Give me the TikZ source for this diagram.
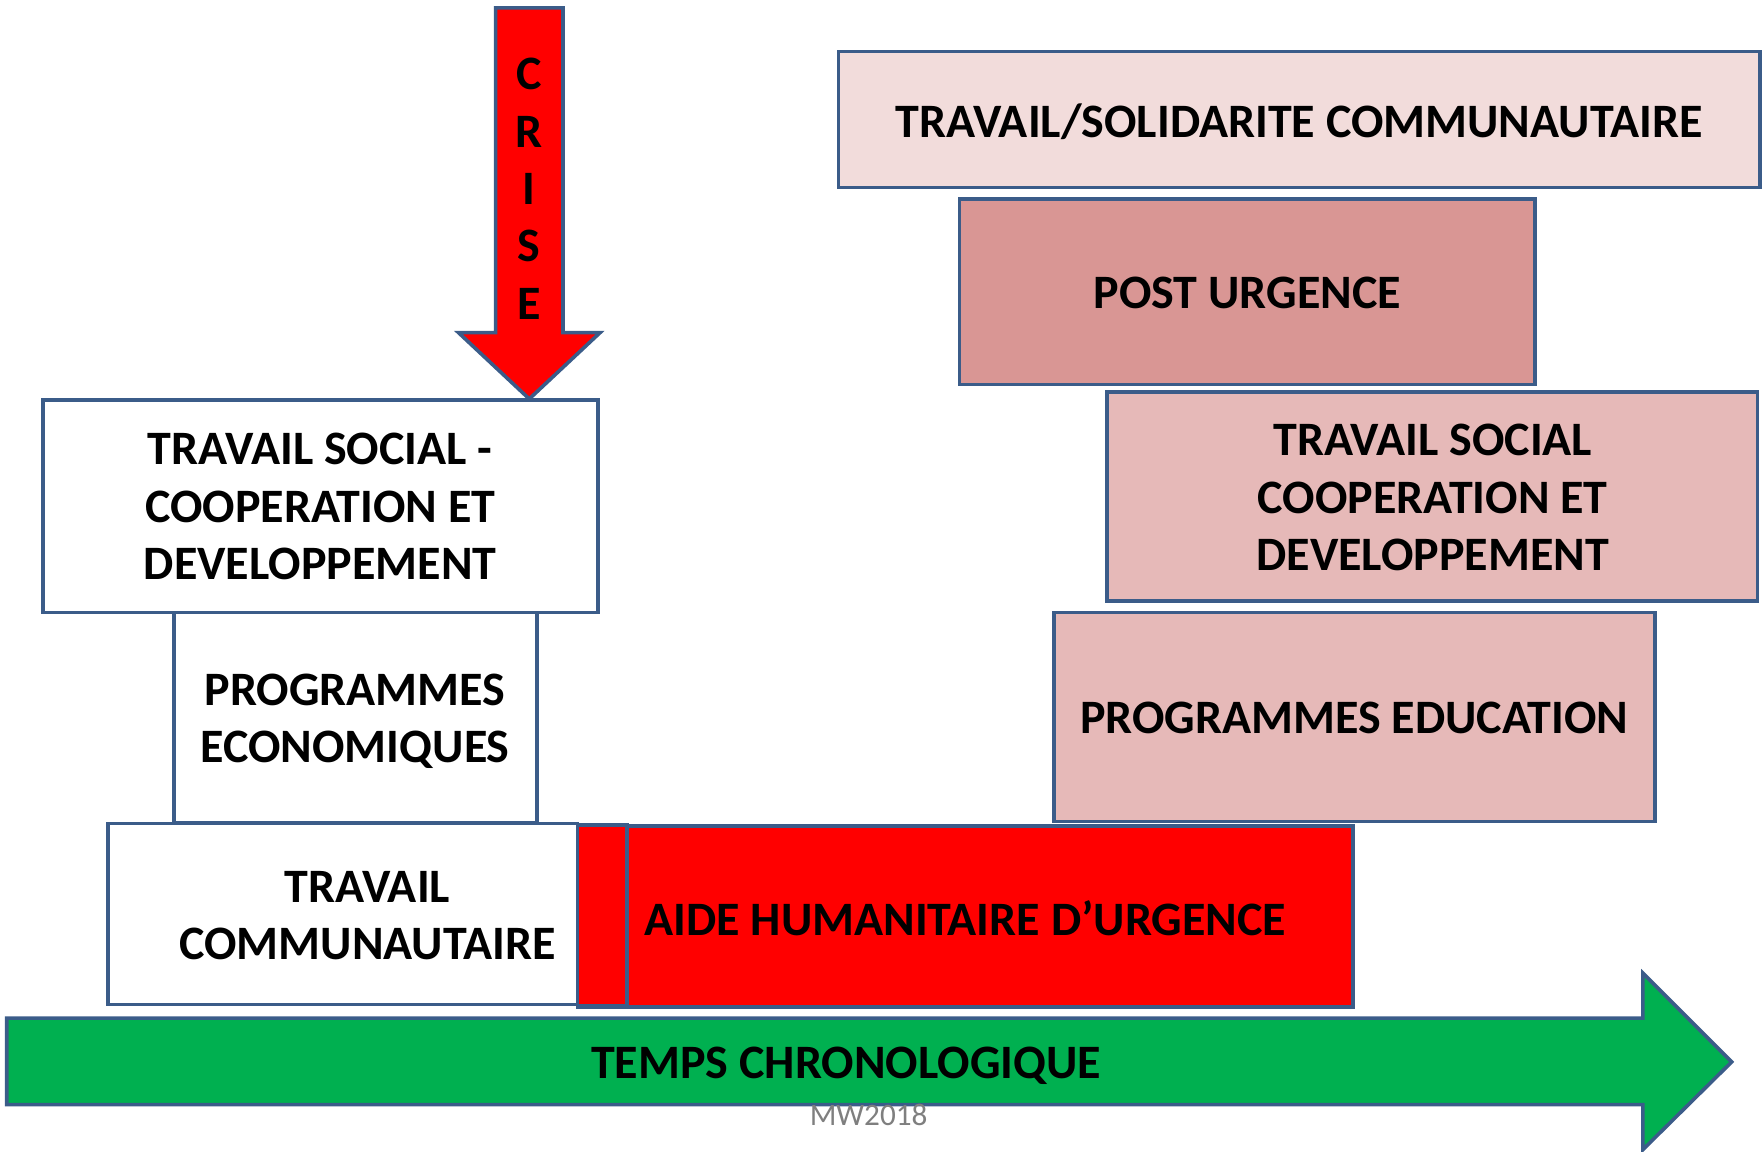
\documentclass[tikz,border=0pt]{standalone}
\usepackage{fontspec}
\setmainfont{Carlito}
\definecolor{edge}{RGB}{59,92,137}
\definecolor{pinkA}{HTML}{F2DCDB}
\definecolor{pinkB}{HTML}{D99694}
\definecolor{pinkC}{HTML}{E6B9B8}
\definecolor{greenA}{HTML}{00B050}
\definecolor{redA}{HTML}{FF0000}
\definecolor{grayT}{HTML}{7F7F7F}
\tikzset{
  boxline/.style={draw=edge, line width=1.8pt, line join=miter},
  lbl/.style={font=\fontsize{24}{28.7}\selectfont\bfseries, align=center, inner sep=0pt, text=black},
}
\begin{document}
\begin{tikzpicture}[x=0.5618pt,y=-0.5618pt]
\useasboundingbox (0,0) rectangle (1568,1025);
% right column
\path[boxline, fill=pinkA] (746,46) rectangle (1566,167);
\node[lbl] (tsc) at (1156,108) {TRAVAIL/SOLIDARITE COMMUNAUTAIRE};
\path[boxline, fill=pinkB] (854,177) rectangle (1366,342);
\node[lbl] (pu) at (1110,261) {POST URGENCE};
\path[boxline, fill=pinkC] (985,349) rectangle (1564,535);
\node[lbl] (tsr) at (1275,443) {TRAVAIL SOCIAL\\COOPERATION ET\\DEVELOPPEMENT};
\path[boxline, fill=pinkC] (938,545) rectangle (1473,731);
\node[lbl] (pe) at (1205,639) {PROGRAMMES EDUCATION};
% left column
\path[boxline, fill=white] (38,356) rectangle (532,545);
\node[lbl] (tsl) at (285,451) {TRAVAIL SOCIAL -\\COOPERATION ET\\DEVELOPPEMENT};
\path[boxline, fill=white] (155,545) rectangle (478,732);
\node[lbl] (pec) at (316,642) {PROGRAMMES\\ECONOMIQUES};
\path[boxline, fill=white] (96,733) rectangle (514,894);
\node[lbl] (tc) at (327,815) {TRAVAIL\\COMMUNAUTAIRE};
% red boxes
\path[boxline, fill=redA] (514,735) rectangle (1204,896);
\path[boxline, fill=redA] (514,734) rectangle (558,895);
\node[lbl, anchor=west] (ahu) at (573,817) {AIDE HUMANITAIRE D’URGENCE};
% crise arrow
\path[boxline, fill=redA] (441,7) -- (501,7) -- (501,296) -- (534,296) -- (471,355) -- (408,296) -- (441,296) -- cycle;
\node[lbl] (crise) at (471,168) {C\\R\\I\\S\\E};
% time arrow
\path[boxline, fill=greenA] (6,906) -- (1462,906) -- (1462,866) -- (1541,945) -- (1462,1023) -- (1462,983) -- (6,983) -- cycle;
\node[lbl] (tps) at (753,948) {TEMPS CHRONOLOGIQUE};
\node[font=\fontsize{15.6}{18}\selectfont, text=grayT, inner sep=0pt] (mw) at (773,992) {MW2018};
\end{tikzpicture}
\end{document}
